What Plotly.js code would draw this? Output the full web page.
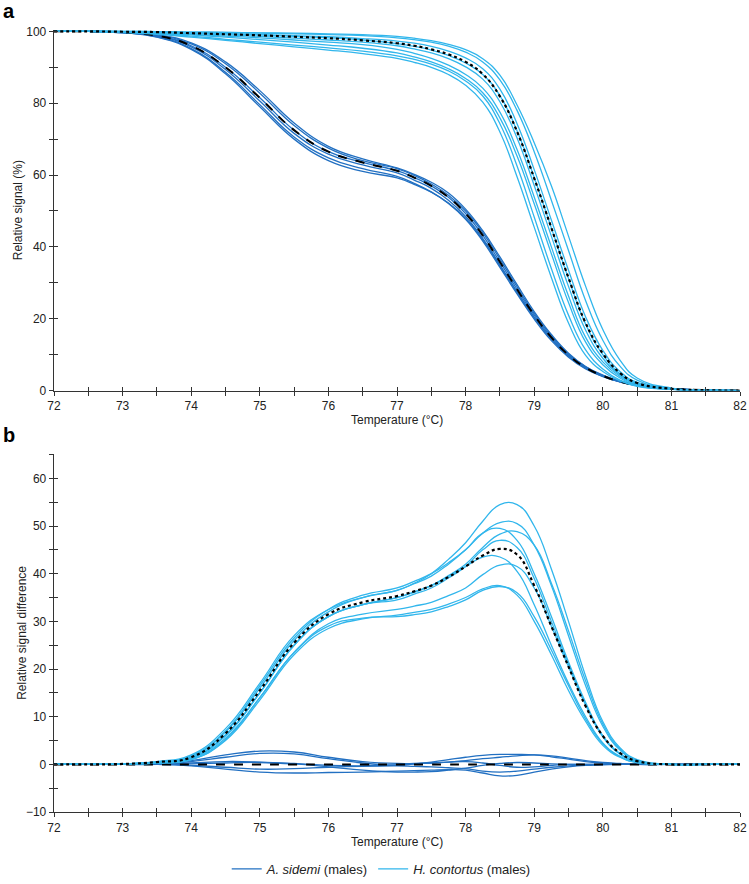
<!DOCTYPE html>
<html>
<head>
<meta charset="utf-8">
<script src="https://cdn.plot.ly/plotly-3.0.1.min.js"></script>
<style>
  html, body { margin: 0; padding: 0; background: #fff; }
  #plotArea { width: 749px; height: 884px; }
</style>
</head>
<body>
<div id="plotArea"></div>
<script>
// temperature grid (°C), shared by every curve
var temp = [72, 72.5, 73, 73.5, 74, 74.5, 75, 75.5, 76, 76.5, 77, 77.25, 77.5, 77.75, 78, 78.25, 78.5, 78.75, 79, 79.25, 79.5, 79.75, 80, 80.25, 80.5, 81, 81.5, 82];

// panel a - relative signal (%), A. sidemi males
var sidemiA1 = [100,100,99.8,99.1,96.8,91.5,83.5,74.5,68,64.5,62,60.2,58,55,50.5,44.5,37.2,29.5,22,15.6,10.4,6.7,4.3,2.6,1.6,0.5,0.1,0];
var sidemiA2 = [100,100,99.8,99,96.5,91,82.8,73.8,67.5,64,61.8,59.9,57.5,54.4,50,44,36.6,28.9,21.5,15.2,10.2,6.6,4.2,2.5,1.5,0.5,0.1,0];
var sidemiA3 = [100,100,99.7,98.8,96,90,81.5,72.5,66.5,63.5,61.2,59.3,57,53.8,49.3,43.2,35.8,28.2,21,14.8,9.9,6.4,4.1,2.5,1.5,0.5,0.1,0];
var sidemiA4 = [100,100,99.7,98.7,95.7,89.4,80.6,71.6,65.8,62.8,60.6,58.6,56.3,53,48.5,42.4,35,27.5,20.4,14.3,9.6,6.2,4,2.4,1.4,0.5,0.1,0];
var sidemiA5 = [100,100,99.6,98.5,95.2,88.6,79.6,70.6,64.8,61.8,59.6,57.7,55.3,52.1,47.7,41.6,34.3,26.9,19.9,13.9,9.3,6,3.9,2.4,1.4,0.5,0.1,0];
var sidemiA6 = [100,100,99.6,98.4,95,88.2,79,70,64,61,59.2,57.4,55.2,52.2,48,42,34.8,27.4,20.4,14.3,9.6,6.2,4,2.5,1.5,0.5,0.1,0];
var sidemiAMean = [100,100,99.7,98.8,96,90,81.5,72.5,66.5,63.5,61.2,59.3,57,53.8,49.3,43.2,35.8,28.2,21,14.8,9.9,6.4,4.1,2.5,1.5,0.5,0.1,0];

// panel a - relative signal (%), H. contortus males
var contA1 = [100,100,100,99.9,99.8,99.7,99.6,99.5,99.3,99.1,98.6,98.1,97.4,96.4,94.9,92.4,87.8,79.5,69,57,43,29,17,8.5,3.5,0.7,0.1,0];
var contA2 = [100,100,100,99.9,99.8,99.7,99.5,99.3,99.1,98.8,98.2,97.7,97,95.9,94.2,91.5,86.5,78,66.5,53,39,25,14,6.8,2.9,0.5,0.1,0];
var contA3 = [100,100,99.9,99.8,99.6,99.4,99.1,98.8,98.5,98,97.3,96.7,95.8,94.5,92.6,89.6,83.9,74.3,61.5,47.5,33.5,20.5,11.2,5.3,2.3,0.5,0.1,0];
var contA4 = [100,100,99.9,99.8,99.6,99.3,99,98.6,98.2,97.6,96.6,95.8,94.8,93.3,91.2,88,82.1,72.3,59.3,45.3,31.2,18.5,10,4.7,2,0.4,0.1,0];
var contA5 = [100,100,99.9,99.7,99.4,99,98.6,98.1,97.6,97,96,95.1,94,92.4,90.1,86.7,80.4,70.3,57.1,43,29,16.8,9,4.3,1.9,0.4,0.1,0];
var contA6 = [100,100,99.9,99.6,99.2,98.7,98.2,97.6,97,96.3,95,93.9,92.5,90.6,88,84.2,77.5,67.1,53.9,40,26.3,14.8,8,3.9,1.7,0.4,0.1,0];
var contA7 = [100,100,99.8,99.5,99,98.4,97.7,97,96.2,95.3,94,92.9,91.5,89.6,86.9,82.9,75.9,65.3,52,38.1,24.5,13.5,7.2,3.5,1.5,0.3,0.1,0];
var contA8 = [100,100,99.8,99.4,98.7,97.8,97,96.2,95.4,94.5,93.2,92.2,90.9,89,86.2,82,74.3,62.5,48.3,34,21,11.3,6,2.9,1.3,0.3,0.1,0];
var contA9 = [100,100,99.7,99.2,98.4,97.5,96.6,95.7,94.8,93.8,92.5,91.4,90,88,85,80.3,72,59.5,45.5,31.5,18.8,9.8,5.3,2.7,1.2,0.3,0.1,0];
var contAMean = [100,100,99.9,99.8,99.5,99.2,98.9,98.5,98.1,97.5,96.7,96,95,93.6,91.5,88.1,81.9,72.1,59.1,45.3,31.4,18.8,10.3,4.9,2.1,0.5,0.1,0];

// panel b - relative signal difference, A. sidemi males
var sidemiB1 = [0,0,0,0.1,0.8,2,2.8,2.6,1.5,0.6,0.2,0.2,0.3,0.5,0.8,1.2,1.5,1.8,2,1.8,1.3,0.8,0.4,0.2,0,0,0,0];
var sidemiB2 = [0,0,0,0.1,0.6,1.5,2.3,2.2,1.2,0.3,-0.2,0.1,0.5,1,1.5,1.9,2.1,2.1,2,1.6,1.1,0.6,0.3,0.1,0,0,0,0];
var sidemiB3 = [0,0,0,0,0.3,0.6,0.5,0.2,-0.2,-0.3,-0.1,0.1,0.3,0.5,0.6,0.3,-0.2,-0.6,-0.5,-0.2,0,0,0,0,0,0,0,0];
var sidemiB4 = [0,0,0,0,-0.2,-0.6,-1,-0.9,-0.6,-0.4,-0.3,-0.4,-0.5,-0.7,-0.9,-1.4,-1.6,-1.4,-1,-0.6,-0.3,-0.1,0,0,0,0,0,0];
var sidemiB5 = [0,0,0,0,-0.3,-1,-1.6,-1.8,-1.7,-1.6,-1.4,-1.3,-1.2,-1.1,-1.2,-1.8,-2.4,-2.3,-1.6,-1,-0.5,-0.2,-0.1,0,0,0,0,0];
var sidemiB6 = [0,0,0,0,0.1,0.3,0.4,0.1,-0.5,-1.2,-1.6,-1.6,-1.5,-1.2,-0.8,-0.2,0.2,0.4,0.3,0.1,0,0,0,0,0,0,0,0];
var sidemiBMean = [0,0,0,0,0,0,0,0,0,0,0,0,0,0,0,0,0,0,0,0,0,0,0,0,0,0,0,0];

// panel b - relative signal difference, H. contortus males
var contB1 = [0,0,0.1,0.6,2,7.5,17,27,32.5,35,36.5,38,40,43,46.5,51,54.5,54.5,50,41,30,18.5,9,3.5,1,0,0,0];
var contB2 = [0,0,0.1,0.5,1.8,7,16.5,26.5,32.5,35.5,37,38.4,40,42.3,45,48.5,50.7,50.5,46,37.5,27,16.5,8,3,0.8,0,0,0];
var contB3 = [0,0,0.1,0.5,1.6,6.8,16,26,32,35,36.5,37.9,39.5,42,45,48.5,49.5,47,40,31,21.5,13,6,2.2,0.6,0,0,0];
var contB4 = [0,0,0.1,0.4,1.3,6,15,25,31,33.5,35,36.1,37.5,39.6,42,45.5,48.3,48.8,46,38,28,17.5,8.5,3.2,0.8,0,0,0];
var contB5 = [0,0,0.1,0.4,1.4,6.2,15,25,31,33.5,34.5,35.7,37,39.1,41.5,45,47,45.5,39,30,21,12.5,5.8,2.2,0.6,0,0,0];
var contB6 = [0,0,0.1,0.4,1.3,6,15,25,31,33.5,35,36.2,37.5,39.4,41.5,43.5,43.5,40.5,33.5,25,17,10,4.5,1.7,0.5,0,0,0];
var contB7 = [0,0,0.1,0.3,1.1,5.5,14,23.5,29.5,31.5,32.5,33.2,34,35.4,37,39.8,41.8,41.5,37,29,20.5,12.5,6,2.3,0.6,0,0,0];
var contB8 = [0,0,0.1,0.3,1,5,13.5,23,28.5,30.5,31.3,31.9,32.5,33.6,35,36.8,37.5,35.5,30,23,15.5,9,4,1.5,0.4,0,0,0];
var contB9 = [0,0,0.1,0.3,1,5.2,14,23.5,29,30.7,31,31.4,32,33.1,34.5,36.5,37.3,36,31,24,16.5,9.5,4.3,1.6,0.4,0,0,0];
var contBMean = [0,0,0.1,0.5,1.5,6.5,15.5,25.5,31.5,34,35.3,36.3,37.5,39.3,41.5,43.8,45.2,44,37.5,29,20.5,12.2,6,2.4,0.7,0,0,0];

var darkBlue = '#2270c2';
var lightBlue = '#31b6ec';
var sidemiName = '<i>A. sidemi</i> (males)';
var contName = '<i>H. contortus</i> (males)';

function curve(y, color, dash, width, xa, ya, name, show) {
    return {
        x: temp, y: y, type: 'scatter', mode: 'lines',
        line: {color: color, width: width, dash: dash, shape: 'spline', smoothing: 1.3},
        xaxis: xa, yaxis: ya, name: name, showlegend: show,
        legendgroup: name, hoverinfo: 'skip'
    };
}

var data = [];
[sidemiA1, sidemiA2, sidemiA3, sidemiA4, sidemiA5, sidemiA6].forEach(function (s, i) {
    data.push(curve(s, darkBlue, 'solid', 1.3, 'x', 'y', sidemiName, i === 0));
});
data.push(curve(sidemiAMean, '#000', 'dash', 2, 'x', 'y', 'mean A', false));
[contA1, contA2, contA3, contA4, contA5, contA6, contA7, contA8, contA9].forEach(function (s, i) {
    data.push(curve(s, lightBlue, 'solid', 1.3, 'x', 'y', contName, i === 0));
});
data.push(curve(contAMean, '#000', 'dot', 2.2, 'x', 'y', 'mean H', false));

[sidemiB1, sidemiB2, sidemiB3, sidemiB4, sidemiB5, sidemiB6].forEach(function (s) {
    data.push(curve(s, darkBlue, 'solid', 1.3, 'x2', 'y2', sidemiName, false));
});
data.push(curve(sidemiBMean, '#000', 'dash', 2, 'x2', 'y2', 'mean A', false));
[contB1, contB2, contB3, contB4, contB5, contB6, contB7, contB8, contB9].forEach(function (s) {
    data.push(curve(s, lightBlue, 'solid', 1.3, 'x2', 'y2', contName, false));
});
data.push(curve(contBMean, '#000', 'dot', 2.2, 'x2', 'y2', 'mean H', false));

// empty traces so the overlay axes (inner half of the crossing ticks) get drawn
[['x3', 'y'], ['x', 'y3'], ['x4', 'y2'], ['x2', 'y4']].forEach(function (p) {
    data.push({x: [null], y: [null], type: 'scatter', mode: 'lines', xaxis: p[0], yaxis: p[1], showlegend: false, hoverinfo: 'skip'});
});

var axColor = '#333';
var tickFont = {family: 'Liberation Sans, Arial, sans-serif', size: 12, color: '#222'};

function xAxis(anchor, inside) {
    return {
        anchor: anchor, domain: [0, 1], range: [72, 82], tick0: 72, dtick: 1,
        ticks: inside ? 'inside' : 'outside', ticklen: 4, tickwidth: 1, tickcolor: axColor,
        minor: {dtick: 0.5, tick0: 72, ticks: inside ? 'inside' : 'outside', ticklen: 4, tickwidth: 1, tickcolor: axColor},
        showline: !inside, linecolor: axColor, linewidth: 1.3,
        showgrid: false, zeroline: false, showticklabels: !inside,
        tickfont: tickFont, fixedrange: true
    };
}

function yAxis(anchor, domain, range, dtick, inside) {
    return {
        anchor: anchor, domain: domain, range: range, tick0: 0, dtick: dtick,
        ticks: inside ? 'inside' : 'outside', ticklen: 4, tickwidth: 1, tickcolor: axColor,
        minor: {dtick: dtick / 2, tick0: 0, ticks: inside ? 'inside' : 'outside', ticklen: 4, tickwidth: 1, tickcolor: axColor},
        showline: !inside, linecolor: axColor, linewidth: 1.3,
        showgrid: false, zeroline: false, showticklabels: !inside,
        tickfont: tickFont, fixedrange: true
    };
}

var domA = [0.5577, 0.9661];
var domB = [0.0803, 0.4853];

var layout = {
    width: 749, height: 884,
    margin: {l: 54, r: 9, t: 0, b: 0},
    paper_bgcolor: '#fff', plot_bgcolor: '#fff',
    font: {family: 'Liberation Sans, Arial, sans-serif', size: 12, color: '#222'},
    xaxis: xAxis('y', false),
    yaxis: yAxis('x', domA, [0, 100.4], 20, false),
    xaxis2: xAxis('y2', false),
    yaxis2: yAxis('x2', domB, [-10, 65], 10, false),
    xaxis3: Object.assign(xAxis('y', true), {overlaying: 'x'}),
    yaxis3: Object.assign(yAxis('x', domA, [0, 100.4], 20, true), {overlaying: 'y'}),
    xaxis4: Object.assign(xAxis('y2', true), {overlaying: 'x2'}),
    yaxis4: Object.assign(yAxis('x2', domB, [-10, 65], 10, true), {overlaying: 'y2'}),
    showlegend: true,
    legend: {
        orientation: 'h', x: 0.477, xanchor: 'center', y: 0.016, yanchor: 'middle',
        font: {size: 13, color: '#222'}, itemwidth: 30, traceorder: 'normal'
    },
    annotations: [
        {text: '<b>a</b>', xref: 'paper', yref: 'paper', x: -0.077, y: 0.988, xanchor: 'left', yanchor: 'middle', showarrow: false, font: {size: 20, color: '#000'}},
        {text: '<b>b</b>', xref: 'paper', yref: 'paper', x: -0.077, y: 0.5075, xanchor: 'left', yanchor: 'middle', showarrow: false, font: {size: 20, color: '#000'}},
        {text: 'Relative signal (%)', xref: 'paper', yref: 'paper', x: -0.0525, y: 0.762, xanchor: 'center', yanchor: 'middle', textangle: -90, showarrow: false, font: {size: 12}},
        {text: 'Relative signal difference', xref: 'paper', yref: 'paper', x: -0.047, y: 0.283, xanchor: 'center', yanchor: 'middle', textangle: -90, showarrow: false, font: {size: 12}},
        {text: 'Temperature (°C)', xref: 'paper', yref: 'paper', x: 0.5, y: 0.5238, xanchor: 'center', yanchor: 'middle', showarrow: false, font: {size: 12}},
        {text: 'Temperature (°C)', xref: 'paper', yref: 'paper', x: 0.5, y: 0.0464, xanchor: 'center', yanchor: 'middle', showarrow: false, font: {size: 12}}
    ]
};

Plotly.newPlot('plotArea', data, layout, {displayModeBar: false, staticPlot: true});
</script>
</body>
</html>
